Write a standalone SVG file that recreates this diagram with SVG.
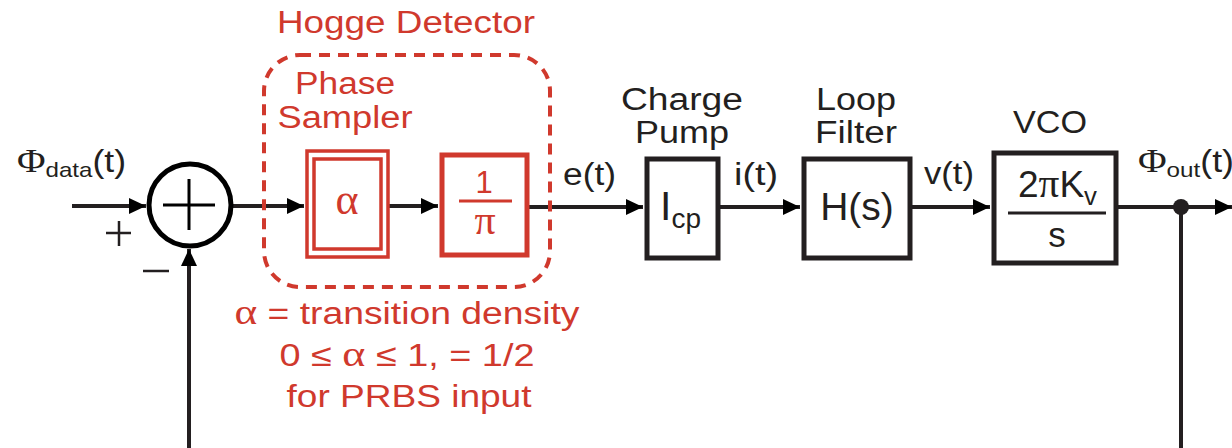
<svg xmlns="http://www.w3.org/2000/svg" width="1232" height="448" viewBox="0 0 1232 448" font-size="31">
<style>
.t{font-family:"Liberation Sans",Arial,sans-serif;fill:#231f20}
.r{fill:#d0392d}
.sym{font-family:"Liberation Serif","Times New Roman",serif}
.box{fill:none;stroke:#231f20;stroke-width:5}
.rbox{fill:none;stroke:#d0392d}
.ln{fill:none;stroke:#231f20;stroke-width:4}
</style>
<defs>
<marker id="ah" markerUnits="userSpaceOnUse" markerWidth="18" markerHeight="18" viewBox="0 0 18 18" refX="17" refY="9" orient="auto">
<path d="M0,1 L17,9 L0,17 z" fill="#000"/>
</marker>
</defs>
<rect width="1232" height="448" fill="#fff"/>

<g id="connectors">
<path class="ln" d="M72,206 H146" marker-end="url(#ah)"/>
<path class="ln" d="M233,206 H304" marker-end="url(#ah)"/>
<path class="ln" d="M389,206 H438" marker-end="url(#ah)"/>
<path class="ln" d="M528,207 H643" marker-end="url(#ah)"/>
<path class="ln" d="M720,207 H800" marker-end="url(#ah)"/>
<path class="ln" d="M912,207 H990" marker-end="url(#ah)"/>
<path class="ln" d="M1118,207 H1232" marker-end="url(#ah)"/>
<path class="ln" d="M1181,207 V450"/>
<path class="ln" d="M189,450 V249" marker-end="url(#ah)"/>
<circle cx="1181" cy="207" r="8" fill="#231f20"/>
</g>

<g id="input-label">
<text class="t" x="17" y="172" font-size="31" textLength="109" lengthAdjust="spacingAndGlyphs"><tspan class="sym" font-size="34">Φ</tspan><tspan font-size="21" dy="5">data</tspan><tspan dy="-5">(t)</tspan></text>
</g>

<g id="summer">
<circle cx="190" cy="205" r="41" fill="#fff" stroke="#000" stroke-width="5"/>
<path d="M163,205 H215 M189,179 V230" stroke="#000" stroke-width="3" fill="none"/>
<path d="M106,233 H131 M119,221 V246" stroke="#231f20" stroke-width="2.5"/>
<path d="M143,271 H169" stroke="#231f20" stroke-width="2.5"/>
</g>

<g id="hogge-detector">
<rect x="264" y="55" width="286" height="232" rx="36" fill="none" stroke="#d0392d" stroke-width="4" stroke-dasharray="11,8"/>
<text class="t r" x="406" y="33" text-anchor="middle" textLength="258" lengthAdjust="spacingAndGlyphs">Hogge Detector</text>
<text class="t r" x="345" y="94" text-anchor="middle" textLength="100" lengthAdjust="spacingAndGlyphs">Phase</text>
<text class="t r" x="345" y="128" text-anchor="middle" textLength="135" lengthAdjust="spacingAndGlyphs">Sampler</text>
</g>

<g id="alpha-block">
<rect x="307" y="151" width="81" height="106" class="rbox" stroke-width="3.5"/>
<rect x="314" y="159" width="67" height="90" class="rbox" stroke-width="3.5"/>
<text class="t r sym" x="347" y="214" text-anchor="middle" font-size="44">α</text>
</g>

<g id="inv-pi-block">
<rect x="442" y="155" width="85" height="100" class="rbox" stroke-width="5"/>
<text class="t r" x="484" y="193" text-anchor="middle" font-size="31">1</text>
<path d="M459,201 H512" stroke="#d0392d" stroke-width="3"/>
<text class="t r sym" x="485" y="234" text-anchor="middle" font-size="42">π</text>
</g>

<g id="e-label">
<text class="t" x="563" y="185" textLength="53" lengthAdjust="spacingAndGlyphs">e(t)</text>
</g>

<g id="charge-pump">
<rect x="647" y="159" width="71" height="99" class="box"/>
<text class="t" x="682" y="110" text-anchor="middle" textLength="122" lengthAdjust="spacingAndGlyphs">Charge</text>
<text class="t" x="682" y="143" text-anchor="middle" textLength="94" lengthAdjust="spacingAndGlyphs">Pump</text>
<text class="t" x="660" y="220" font-size="41">I<tspan font-size="28" dy="8">cp</tspan></text>
</g>

<g id="i-label">
<text class="t" x="734" y="185" textLength="44" lengthAdjust="spacingAndGlyphs">i(t)</text>
</g>

<g id="loop-filter">
<rect x="804" y="159" width="106" height="99" class="box"/>
<text class="t" x="856" y="110" text-anchor="middle" textLength="80" lengthAdjust="spacingAndGlyphs">Loop</text>
<text class="t" x="856" y="143" text-anchor="middle" textLength="82" lengthAdjust="spacingAndGlyphs">Filter</text>
<text class="t" x="857" y="220" text-anchor="middle" font-size="39">H(s)</text>
</g>

<g id="v-label">
<text class="t" x="924" y="184" textLength="50" lengthAdjust="spacingAndGlyphs">v(t)</text>
</g>

<g id="vco">
<rect x="994" y="153" width="122" height="110" class="box"/>
<text class="t" x="1050" y="133" text-anchor="middle" textLength="74" lengthAdjust="spacingAndGlyphs">VCO</text>
<text class="t" x="1018" y="197" font-size="36" textLength="79" lengthAdjust="spacingAndGlyphs">2<tspan class="sym" font-size="40">π</tspan>K<tspan font-size="25" dy="8">v</tspan></text>
<path d="M1008,213 H1106" stroke="#231f20" stroke-width="3"/>
<text class="t" x="1057" y="247" text-anchor="middle" font-size="35">s</text>
</g>

<g id="output-label">
<text class="t" x="1138" y="172" font-size="31" textLength="96" lengthAdjust="spacingAndGlyphs"><tspan class="sym" font-size="34">Φ</tspan><tspan font-size="21" dy="5">out</tspan><tspan dy="-5">(t)</tspan></text>
</g>

<g id="note">
<text class="t r" x="407" y="324" text-anchor="middle" textLength="345" lengthAdjust="spacingAndGlyphs"><tspan class="sym" font-size="36">α</tspan> = transition density</text>
<text class="t r" x="407" y="366" text-anchor="middle" textLength="255" lengthAdjust="spacingAndGlyphs">0 ≤ <tspan class="sym" font-size="36">α</tspan> ≤ 1, = 1/2</text>
<text class="t r" x="409" y="407" text-anchor="middle" textLength="245" lengthAdjust="spacingAndGlyphs">for PRBS input</text>
</g>
</svg>
